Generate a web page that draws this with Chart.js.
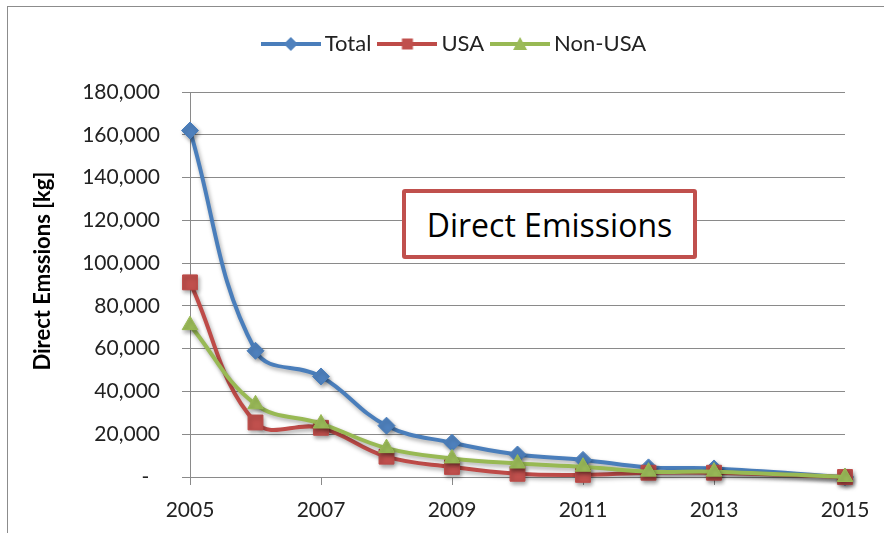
<!DOCTYPE html>
<html>
<head>
<meta charset="utf-8">
<title>Direct Emissions</title>
<script src="https://cdn.jsdelivr.net/npm/chart.js@4.4.1/dist/chart.umd.min.js"></script>
<style>
  html, body { margin: 0; padding: 0; background: #ffffff; }
  #wrap { position: relative; width: 884px; height: 533px; overflow: hidden; background: #ffffff; }
  #frame { position: absolute; left: 7px; top: 6px; width: 920px; height: 600px;
           border: 1px solid #8c8c8c; box-sizing: border-box; pointer-events: none; }
  #chart { position: absolute; left: 0; top: 0; }
  #note { position: absolute; left: 402px; top: 189px; width: 295px; height: 70px; box-sizing: border-box;
          border: 4px solid #C0504D; border-radius: 3px; background: #ffffff;
          font-family: "Open Sans", sans-serif; font-size: 32px; color: #000000;
          display: flex; align-items: center; justify-content: center; }
</style>
</head>
<body>
<div id="wrap">
  <canvas id="chart" width="884" height="533"></canvas>
  <div id="frame"></div>
  <div id="note">Direct Emissions</div>
</div>
<script>
// Direct emissions per year, kg
const years  = [2005, 2006, 2007, 2008, 2009, 2010, 2011, 2012, 2013, 2015];
const total  = [162000, 59000, 47000, 24000, 16000, 10500, 8000, 4500, 4000, 0];
const usa    = [91000, 25500, 23000, 9500, 4700, 1500, 1000, 2000, 2000, 0];
const nonUsa = [71000, 34000, 25000, 13500, 8700, 6300, 4800, 2500, 2500, 0];

const seriesNames = ['Total', 'USA', 'Non-USA'];
const xTickValues = [2005, 2007, 2009, 2011, 2013, 2015];
const yTickValues = [0, 20000, 40000, 60000, 80000, 100000, 120000, 140000, 160000, 180000];

const FONT = 'Lato, "Noto Sans", sans-serif';
const GRID = '#8a8a8a';

// Legend icon: short line with the series marker in the middle
function legendIcon(ds) {
  const w = 60, h = 18, cx = 30, cy = 9;
  const c = document.createElement('canvas');
  c.width = w; c.height = h;
  const g = c.getContext('2d');
  g.strokeStyle = ds.borderColor;
  g.lineWidth = 4;
  g.beginPath(); g.moveTo(0, cy); g.lineTo(w, cy); g.stroke();
  g.fillStyle = ds.pointBackgroundColor;
  g.beginPath();
  if (ds.pointStyle === 'rectRot') {
    g.moveTo(cx, cy - 7); g.lineTo(cx + 7, cy); g.lineTo(cx, cy + 7); g.lineTo(cx - 7, cy);
  } else if (ds.pointStyle === 'rect') {
    g.rect(cx - 5.5, cy - 5.5, 11, 11);
  } else {
    g.moveTo(cx, cy - 7); g.lineTo(cx + 7, cy + 6); g.lineTo(cx - 7, cy + 6);
  }
  g.closePath(); g.fill();
  return c;
}

function series(values) {
  return years.map((x, i) => ({ x: x, y: values[i] }));
}

const lineShadow = {
  id: 'lineShadow',
  beforeDatasetDraw(chart) {
    const ctx = chart.ctx;
    ctx.save();
    ctx.shadowColor = 'rgba(0,0,0,0.35)';
    ctx.shadowBlur = 4;
    ctx.shadowOffsetX = 1.5;
    ctx.shadowOffsetY = 2.5;
  },
  afterDatasetDraw(chart) {
    chart.ctx.restore();
  }
};

// extra room between the legend row and the plot area
const legendGap = {
  id: 'legendGap',
  afterInit(chart) {
    const legend = chart.legend;
    const fit = legend.fit.bind(legend);
    legend.fit = function () { fit(); this.height += 27; };
  }
};

const ctx = document.getElementById('chart').getContext('2d');
new Chart(ctx, {
  type: 'line',
  data: {
    datasets: [
      { label: seriesNames[0], data: series(total), order: 2,
        borderColor: '#4A7EBB', backgroundColor: '#4F81BD',
        pointBackgroundColor: '#4F81BD', pointBorderColor: '#4A7EBB',
        pointStyle: 'rectRot', pointRadius: 8.5, pointBorderWidth: 1 },
      { label: seriesNames[1], data: series(usa), order: 1,
        borderColor: '#BE4B48', backgroundColor: '#C0504D',
        pointBackgroundColor: '#C0504D', pointBorderColor: '#BE4B48',
        pointStyle: 'rect', pointRadius: 10.5, pointBorderWidth: 1 },
      { label: seriesNames[2], data: series(nonUsa), order: 0,
        borderColor: '#98B954', backgroundColor: '#9BBB59',
        pointBackgroundColor: '#9BBB59', pointBorderColor: '#98B954',
        pointStyle: 'triangle', pointRadius: 9, pointBorderWidth: 1 }
    ]
  },
  options: {
    responsive: false,
    animation: false,
    devicePixelRatio: 1,
    layout: { padding: { top: 20, right: 0, bottom: 0, left: 30 } },
    datasets: {
      line: { borderWidth: 4, tension: 0.4, fill: false, clip: false }
    },
    font: { family: FONT },
    plugins: {
      tooltip: { enabled: false },
      legend: {
        display: true,
        position: 'top',
        labels: {
          font: { family: FONT, size: 22 },
          color: '#222222',
          usePointStyle: true,
          pointStyleWidth: 46,
          padding: 13,
          sort: (a, b) => a.datasetIndex - b.datasetIndex,
          generateLabels(chart) {
            const items = Chart.defaults.plugins.legend.labels.generateLabels(chart);
            items.forEach(it => { it.pointStyle = legendIcon(chart.data.datasets[it.datasetIndex]); });
            return items;
          }
        }
      }
    },
    scales: {
      x: {
        type: 'linear',
        min: 2005, max: 2015,
        afterBuildTicks: s => { s.ticks = xTickValues.map(v => ({ value: v })); },
        afterFit: s => { s.height = 56; s.paddingRight = 39; },
        border: { display: true, color: GRID, width: 1 },
        grid: { drawOnChartArea: false, drawTicks: true, tickLength: 8, color: GRID, lineWidth: 1 },
        ticks: { padding: 13, autoSkip: false, maxRotation: 0, color: '#222222',
                 font: { family: FONT, size: 21 }, callback: v => String(v) }
      },
      y: {
        min: 0, max: 180000,
        afterBuildTicks: s => { s.ticks = yTickValues.map(v => ({ value: v })); },
        afterFit: s => { s.width = 160; },
        border: { display: true, color: GRID, width: 1 },
        grid: { color: GRID, lineWidth: 1, drawTicks: true, tickLength: 8 },
        ticks: { padding: 22, color: '#222222', font: { family: FONT, size: 21 },
                 callback: v => v === 0 ? '-  ' : v.toLocaleString('en-US') },
        title: { display: true, text: '     Direct Emssions [kg]', color: '#000000',
                 font: { family: FONT, size: 22, weight: 'bold' }, padding: { top: 0, bottom: 0 } }
      }
    }
  },
  plugins: [lineShadow, legendGap]
});
</script>
</body>
</html>
